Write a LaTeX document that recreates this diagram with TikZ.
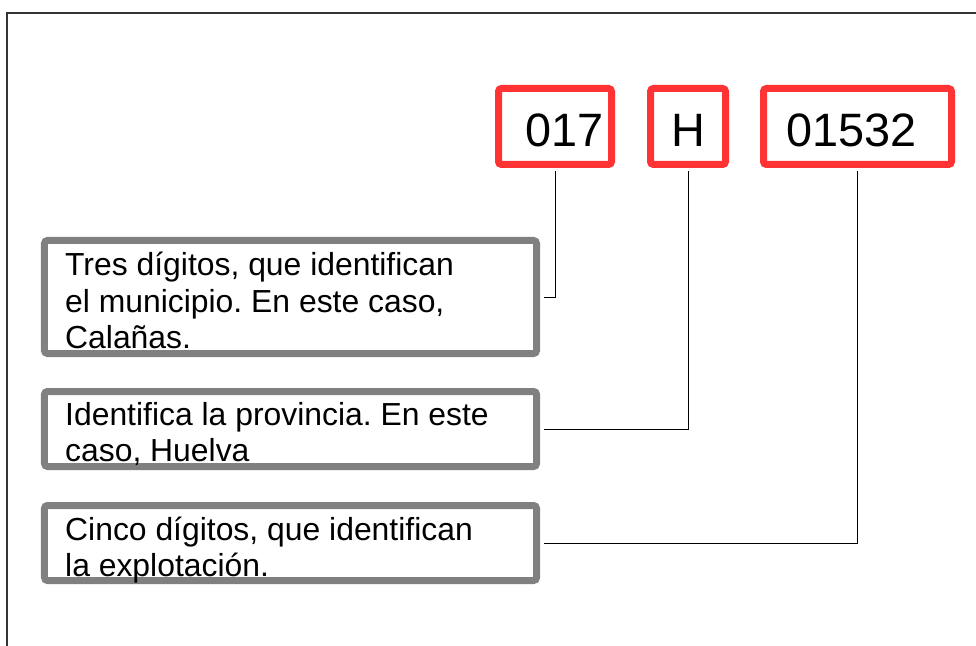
\documentclass[tikz,border=0pt]{standalone}
\usepackage{fontspec}
\setmainfont{Liberation Sans}
\frenchspacing
\definecolor{boxred}{HTML}{FF3333}
\definecolor{boxgray}{HTML}{808080}
\definecolor{frameline}{HTML}{333333}
\begin{document}
\begin{tikzpicture}[x=1bp,y=-1bp,
  redbox/.style={draw=boxred,line width=7bp,rounded corners=3bp,fill=white,inner sep=0pt,minimum height=76bp},
  graybox/.style={draw=boxgray,line width=7bp,rounded corners=3bp,fill=white,inner sep=0pt,minimum width=492bp},
  codetext/.style={anchor=base west,inner sep=0pt,font=\fontsize{47}{52}\selectfont},
  desctext/.style={anchor=base west,inner sep=0pt,font=\fontsize{32}{36}\selectfont},
  conn/.style={draw=black,line width=1bp,shorten <=3.5bp,shorten >=3.5bp}]
\useasboundingbox (0,0) rectangle (976,646);
\fill[white] (0,0) rectangle (976,646);
% frame
\draw[frameline,line width=2bp] (976,13) -- (7,13) -- (7,646);
% red code boxes
\node[redbox,minimum width=113bp] (r1) at (555,126.5) {};
\node[redbox,minimum width=75bp] (r2) at (688,126.5) {};
\node[redbox,minimum width=188bp] (r3) at (857.5,126.5) {};
\node[codetext] (c1) at (525,147) {017};
\node[codetext] (c2) at (671,147) {H};
\node[codetext] (c3) at (786,147) {01532};
% gray description boxes
\node[graybox,minimum height=113bp] (b1) at (290.5,297) {};
\node[graybox,minimum height=75bp] (b2) at (290.5,429) {};
\node[graybox,minimum height=75bp] (b3) at (290.5,543) {};
\node[desctext] (t1a) at (65,276) {Tres dígitos, que identifican};
\node[desctext] (t1b) at (65,312) {el municipio. En este caso,};
\node[desctext] (t1c) at (65,348) {Calañas.};
\node[desctext] (t2a) at (65,425) {Identifica la provincia. En este};
\node[desctext] (t2b) at (65,461) {caso, Huelva};
\node[desctext] (t3a) at (65,540) {Cinco dígitos, que identifican};
\node[desctext] (t3b) at (65,576) {la explotación.};
% connectors
\draw[conn] (r1.south) |- (b1.east);
\draw[conn] (r2.south) |- (b2.east);
\draw[conn] (r3.south) |- (b3.east);
\end{tikzpicture}
\end{document}
